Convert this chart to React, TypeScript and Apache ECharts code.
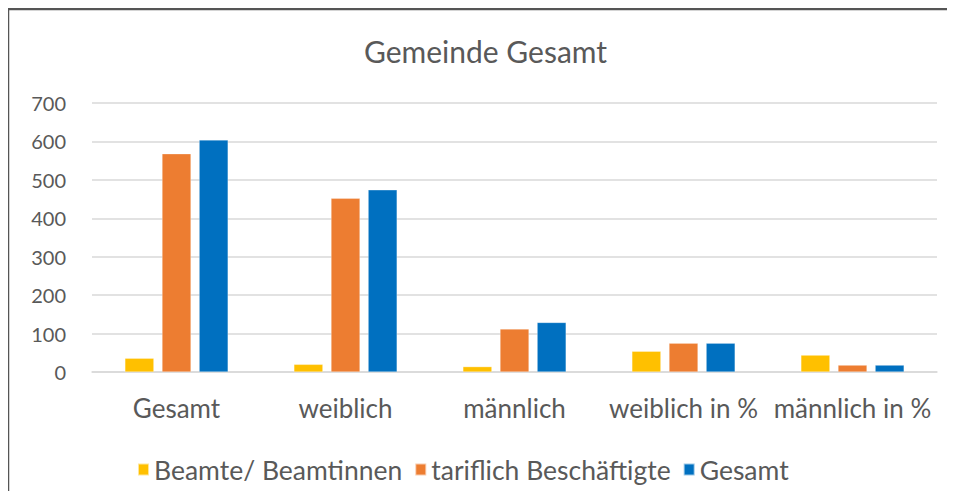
import React, { useEffect, useRef } from "react";
import * as echarts from "echarts";

const categories = ["Gesamt", "weiblich", "männlich", "weiblich in %", "männlich in %"];
const beamte = [36, 20, 14, 54, 44];
const tariflich = [568, 452, 112, 75, 18];
const gesamt = [604, 474, 129, 75, 18];
const seriesNames = ["Beamte/ Beamtinnen", "tariflich Beschäftigte", "Gesamt"];
const colors = ["#FFC000", "#ED7D31", "#0070C0"];

const FONT = "Lato, sans-serif";

export default function App() {
  const ref = useRef<HTMLDivElement>(null);
  useEffect(() => {
    if (!ref.current) return;
    const chart = echarts.init(ref.current, undefined, { renderer: "svg" });
    const mk = (name: string, data: number[], color: string) => ({
      name,
      type: "bar",
      data,
      barWidth: 29,
      barGap: "28%",
      itemStyle: { color, borderColor: "rgba(255,255,255,0.6)", borderWidth: 0.5 },
    });
    chart.setOption({
      animation: false,
      backgroundColor: "#ffffff",
      textStyle: { fontFamily: FONT },
      title: {
        text: "Gemeinde Gesamt",
        left: 359,
        top: 31,
        textStyle: { fontFamily: FONT, fontSize: 30, fontWeight: "normal", color: "#595959" },
      },
      graphic: [
        {
          type: "line",
          shape: { x1: 8, y1: 8, x2: 8, y2: 499 },
          style: { stroke: "#555555", lineWidth: 2.5 },
          silent: true,
          z: 100,
        },
        {
          type: "line",
          shape: { x1: 7, y1: 9, x2: 955, y2: 9 },
          style: { stroke: "#555555", lineWidth: 2.5 },
          silent: true,
          z: 100,
        },
      ],
      legend: {
        bottom: 11,
        left: 132,
        itemWidth: 11,
        itemHeight: 12,
        itemGap: 12,
        icon: "rect",
        textStyle: { fontFamily: FONT, fontSize: 26.5, color: "#595959", padding: [0, 0, 0, 0] },
        data: seriesNames,
      },
      grid: { left: 92, right: 18, top: 103, bottom: 127, containLabel: false },
      xAxis: {
        type: "category",
        data: categories,
        axisLine: { show: true, lineStyle: { color: "#d9d9d9", width: 1.5 } },
        axisTick: { show: false },
        axisLabel: { fontFamily: FONT, fontSize: 26, color: "#595959", margin: 23, interval: 0 },
      },
      yAxis: {
        type: "value",
        min: 0,
        max: 700,
        interval: 100,
        axisLine: { show: false },
        axisTick: { show: false },
        splitLine: { lineStyle: { color: "#d9d9d9", width: 1.5 } },
        axisLabel: { fontFamily: FONT, fontSize: 20, color: "#595959", margin: 26 },
      },
      series: [
        mk(seriesNames[0], beamte, colors[0]),
        mk(seriesNames[1], tariflich, colors[1]),
        mk(seriesNames[2], gesamt, colors[2]),
      ],
    });
    return () => chart.dispose();
  }, []);
  return <div ref={ref} style={{ width: 955, height: 499, margin: -8 }} />;
}
